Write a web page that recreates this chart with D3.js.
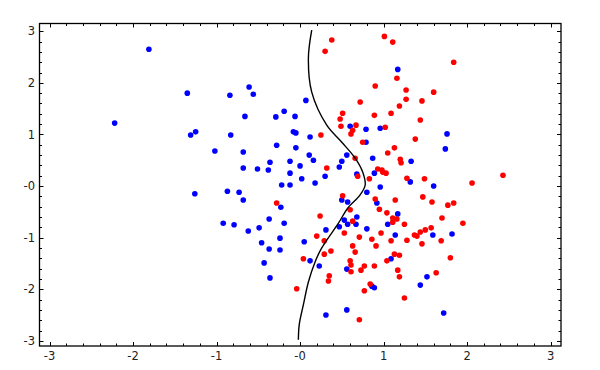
<!DOCTYPE html>
<html>
<head>
<meta charset="utf-8">
<script src="https://cdn.jsdelivr.net/npm/d3@7"></script>
<style>
  body { margin: 0; background: #fff; }
  text { font-family: "DejaVu Sans", sans-serif; }
</style>
</head>
<body>
<script>
// tick values and their labels (sage prints zero as "-0")
const xTicks = [-3, -2, -1, 0, 1, 2, 3];
const xTickLabels = ["-3", "-2", "-1", "-0", "1", "2", "3"];
const yTicks = [-3, -2, -1, 0, 1, 2, 3];
const yTickLabels = ["-3", "-2", "-1", "-0", "1", "2", "3"];

// blue class [x, y]
const bluePts = [
  [-1.81, 2.65], [-2.22, 1.22], [-1.35, 1.80], [-0.84, 1.76], [-0.61, 1.92], [-0.56, 1.78],
  [-0.66, 1.35], [-0.29, 1.34], [-0.19, 1.45], [-0.06, 1.35], [0.07, 1.66], [0.60, 1.16],
  [1.17, 2.26], [-1.31, 0.99], [-1.25, 1.05], [-0.83, 0.99], [-1.02, 0.68], [-0.68, 0.66],
  [-0.68, 0.35], [-1.26, -0.15], [-0.87, -0.10], [-0.73, -0.12], [-0.68, -0.27], [-0.92, -0.72],
  [-0.79, -0.75], [-0.08, 1.05], [-0.05, 1.03], [0.12, 0.95], [-0.28, 0.79], [-0.05, 0.74],
  [0.79, 1.10], [0.96, 1.12], [0.79, 0.85], [0.11, 0.60], [0.16, 0.50], [-0.36, 0.46],
  [-0.12, 0.48], [0.00, 0.39], [-0.51, 0.33], [-0.38, 0.31], [-0.12, 0.25], [0.47, 0.37],
  [0.50, 0.48], [0.56, 0.60], [0.87, 0.54], [0.30, 0.19], [0.02, 0.14], [-0.22, 0.02],
  [-0.12, 0.02], [0.18, 0.06], [0.68, 0.23], [0.89, 0.25], [0.96, -0.02], [0.80, -0.12],
  [0.50, -0.27], [0.57, -0.31], [0.92, -0.33], [-0.23, -0.41], [0.68, -0.60], [-0.37, -0.64],
  [-0.19, -0.72], [0.53, -0.66], [0.57, -0.74], [0.67, -0.74], [1.76, 1.01], [1.74, 0.72],
  [1.33, 0.48], [1.32, 0.08], [1.60, 0.00], [1.17, -0.54], [1.05, -0.74], [-0.62, -0.87],
  [-0.49, -0.81], [-0.46, -1.10], [-0.37, -1.22], [-0.24, -1.01], [-0.24, -1.24], [-0.43, -1.49],
  [-0.36, -1.78], [0.05, -1.08], [0.31, -0.85], [0.12, -1.45], [0.23, -1.55], [0.56, -1.61],
  [0.31, -2.50], [0.56, -2.40], [0.47, -0.79], [0.80, -0.83], [0.86, -1.94], [0.89, -1.97],
  [1.14, -0.95], [1.59, -0.95], [1.82, -0.93], [1.09, -1.41], [1.52, -1.76], [1.44, -1.92],
  [1.72, -2.46]
];

// red class [x, y]
const redPts = [
  [0.38, 2.83], [0.30, 2.61], [1.01, 2.90], [1.11, 2.79], [1.84, 2.40], [1.16, 2.09],
  [1.27, 1.86], [1.60, 1.82], [1.27, 1.68], [1.46, 1.65], [1.19, 1.55], [1.09, 1.41],
  [1.44, 1.28], [0.90, 1.94], [0.72, 1.63], [0.51, 1.41], [0.48, 1.30], [0.89, 1.37],
  [0.49, 1.16], [0.63, 1.08], [0.61, 1.01], [0.67, 1.18], [0.25, 0.99], [0.75, 0.85],
  [0.32, 0.35], [0.66, 0.54], [0.69, 0.19], [0.83, 0.14], [0.93, 0.33], [0.98, 0.31],
  [0.99, 0.27], [0.51, -0.19], [0.90, -0.25], [0.95, -0.45], [-0.28, -0.33], [0.24, -0.58],
  [0.60, -0.46], [0.63, -0.68], [1.02, 1.14], [1.38, 0.91], [1.13, 0.74], [1.05, 0.64],
  [1.20, 0.52], [1.21, 0.45], [1.03, 0.25], [1.28, 0.15], [1.49, 0.14], [2.43, 0.21],
  [2.06, 0.06], [1.14, -0.27], [1.47, -0.21], [1.58, -0.31], [1.77, -0.37], [1.84, -0.33],
  [1.04, -0.52], [1.11, -0.62], [1.16, -0.64], [1.11, -0.70], [1.25, -0.74], [1.70, -0.62],
  [1.95, -0.72], [0.20, -0.97], [0.29, -1.06], [0.04, -1.41], [0.29, -1.32], [0.37, -1.26],
  [-0.04, -1.99], [0.35, -1.74], [0.34, -1.84], [0.71, -2.59], [0.53, -0.91], [0.71, -0.99],
  [0.86, -1.03], [0.97, -0.91], [0.63, -1.16], [0.91, -1.16], [0.66, -1.28], [0.60, -1.45],
  [0.61, -1.53], [0.61, -1.66], [0.77, -1.55], [0.73, -1.63], [0.89, -1.55], [0.84, -1.90],
  [0.77, -2.03], [1.09, -1.06], [1.28, -1.05], [1.37, -0.95], [1.40, -0.97], [1.44, -0.89],
  [1.50, -0.85], [1.57, -0.81], [1.69, -1.06], [1.46, -1.12], [1.13, -1.32], [1.19, -1.34],
  [1.04, -1.45], [1.80, -1.39], [1.17, -1.63], [1.19, -1.76], [1.63, -1.68], [1.25, -2.17]
];

// decision boundary
const boundary = [
  [0.14, 3.02], [0.10, 2.48], [0.14, 1.82], [0.32, 1.18], [0.50, 0.85], [0.66, 0.54],
  [0.75, 0.27], [0.78, 0.02], [0.72, -0.17], [0.57, -0.43], [0.46, -0.72], [0.26, -1.20],
  [0.18, -1.47], [0.10, -1.86], [0.04, -2.30], [-0.01, -2.69], [-0.02, -2.98]
];

const W = 600, H = 370;
const box = {left: 39.5, right: 561, top: 23.5, bottom: 346};

const svg = d3.select("body").append("svg")
  .attr("width", W).attr("height", H);

const x = d3.scaleLinear().domain([-3.12, 3.125]).range([box.left, box.right]);
const y = d3.scaleLinear().domain([-3.10, 3.15]).range([box.bottom, box.top]);

// minor ticks every 0.2
const minor = d3.range(-30, 31, 2).map(d => d / 10).filter(d => !xTicks.includes(d));

const ticks = svg.append("g").attr("stroke", "#000").attr("stroke-width", 1);
function drawTicks(vals, len) {
  vals.forEach(v => {
    const px = Math.round(x(v)) + 0.5, py = Math.round(y(v)) + 0.5;
    ticks.append("line").attr("x1", px).attr("x2", px).attr("y1", box.bottom).attr("y2", box.bottom - len);
    ticks.append("line").attr("x1", px).attr("x2", px).attr("y1", box.top).attr("y2", box.top + len);
    ticks.append("line").attr("y1", py).attr("y2", py).attr("x1", box.left).attr("x2", box.left + len);
    ticks.append("line").attr("y1", py).attr("y2", py).attr("x1", box.right).attr("x2", box.right - len);
  });
}
drawTicks(minor, 2.5);
drawTicks(xTicks, 4);

// frame
svg.append("rect")
  .attr("x", box.left).attr("y", box.top)
  .attr("width", box.right - box.left).attr("height", box.bottom - box.top)
  .attr("fill", "none").attr("stroke", "#000").attr("stroke-width", 1.3);

// tick labels
svg.append("g").selectAll("text").data(xTicks).join("text")
  .attr("x", d => x(d)).attr("y", 360)
  .attr("text-anchor", "middle")
  .attr("font-size", 11.5).attr("fill", "#222")
  .text((d, i) => xTickLabels[i]);

svg.append("g").selectAll("text").data(yTicks).join("text")
  .attr("x", 35).attr("y", d => y(d))
  .attr("dy", "0.36em")
  .attr("text-anchor", "end")
  .attr("font-size", 11.5).attr("fill", "#222")
  .text((d, i) => yTickLabels[i]);

// points
svg.append("g").selectAll("circle").data(bluePts).join("circle")
  .attr("cx", d => x(d[0])).attr("cy", d => y(d[1]))
  .attr("r", 2.8).attr("fill", "#0000ff");

svg.append("g").selectAll("circle").data(redPts).join("circle")
  .attr("cx", d => x(d[0])).attr("cy", d => y(d[1]))
  .attr("r", 2.8).attr("fill", "#ff0000");

// boundary curve
const line = d3.line().x(d => x(d[0])).y(d => y(d[1])).curve(d3.curveCatmullRom);
svg.append("path").datum(boundary)
  .attr("d", line)
  .attr("fill", "none").attr("stroke", "#000").attr("stroke-width", 1.4);
</script>
</body>
</html>
